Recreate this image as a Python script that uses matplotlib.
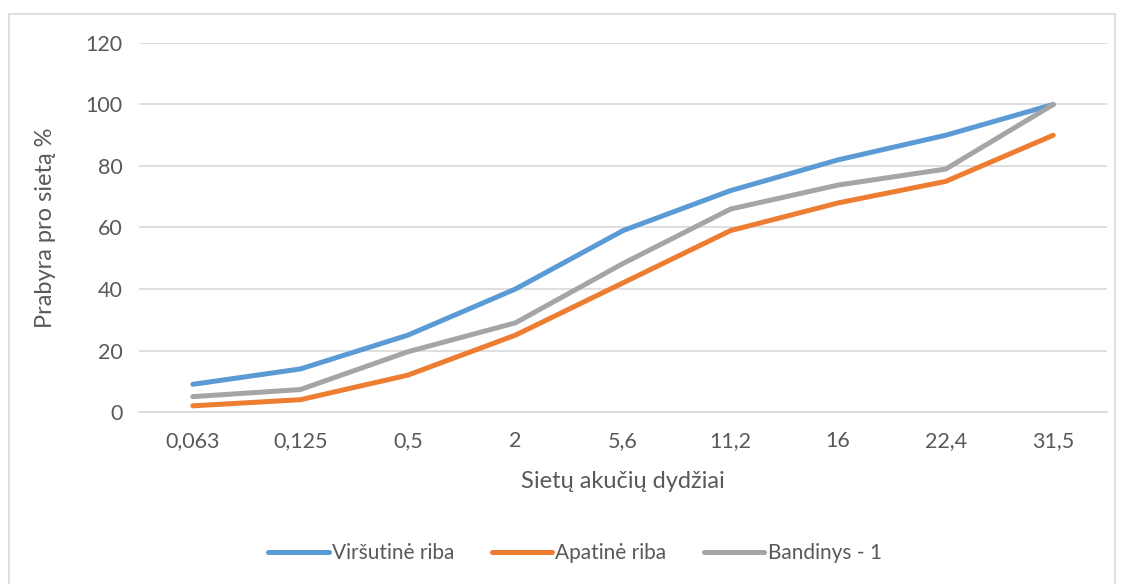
import matplotlib

matplotlib.use("Agg")
import matplotlib.pyplot as plt
from matplotlib.patches import Rectangle

# sieve mesh sizes (mm) and cumulative passing (%)
SIEVES = ["0,063", "0,125", "0,5", "2", "5,6", "11,2", "16", "22,4", "31,5"]
UPPER = [9, 14, 25, 40, 59, 72, 82, 90, 100]
LOWER = [2, 4, 12, 25, 42, 59, 68, 75, 90]
SAMPLE_1 = [5, 7.3, 19.6, 29, 48.3, 66, 73.8, 79, 100]

SERIES = [
    ("Viršutinė riba", UPPER, "#5B9BD5"),
    ("Apatinė riba", LOWER, "#ED7D31"),
    ("Bandinys - 1", SAMPLE_1, "#A5A5A5"),
]

TEXT = "#595959"
GRID = "#D9D9D9"


def main() -> None:
    plt.rcParams["font.family"] = ["Lato", "DejaVu Sans"]
    fig = plt.figure(figsize=(11.23, 5.84), dpi=100)
    ax = fig.add_axes([0.1238, 0.2945, 0.8620, 0.6319])

    # chart-area frame
    fig.patches.append(Rectangle((9 / 1123, -0.01), 1106 / 1123, 1 - 14 / 584 + 0.01,
                                 transform=fig.transFigure, fill=False,
                                 edgecolor=GRID, lw=1.2))

    x = list(range(len(SIEVES)))
    for label, vals, color in SERIES:
        ax.plot(x, vals, color=color, lw=3.6, solid_capstyle="round",
                solid_joinstyle="round", label=label, zorder=3)

    ax.set_xlim(-0.5, len(SIEVES) - 0.5)
    ax.set_ylim(0, 120)
    ax.set_yticks(range(0, 121, 20))
    ax.set_xticks(x)
    ax.set_xticklabels(SIEVES)
    ax.grid(axis="y", color=GRID, lw=1.2)
    ax.set_axisbelow(True)
    for side in ("top", "right", "left"):
        ax.spines[side].set_visible(False)
    ax.spines["bottom"].set_color(GRID)
    ax.spines["bottom"].set_linewidth(1.2)
    ax.tick_params(axis="both", length=0, colors=TEXT, labelsize=15.5)
    ax.tick_params(axis="y", pad=12)
    ax.tick_params(axis="x", pad=14)

    ax.set_xlabel("Sietų akučių dydžiai", color=TEXT, fontsize=17, labelpad=14)
    ax.set_ylabel("Prabyra pro sietą %", color=TEXT, fontsize=17, labelpad=21)

    leg = fig.legend(loc="center", bbox_to_anchor=(0.512, 1 - 553 / 584), ncol=3,
                     frameon=False, fontsize=15, handlelength=2.9,
                     handletextpad=0.15, columnspacing=1.8)
    for t in leg.get_texts():
        t.set_color(TEXT)

    fig.savefig("out.png", dpi=100)


if __name__ == "__main__":
    main()
